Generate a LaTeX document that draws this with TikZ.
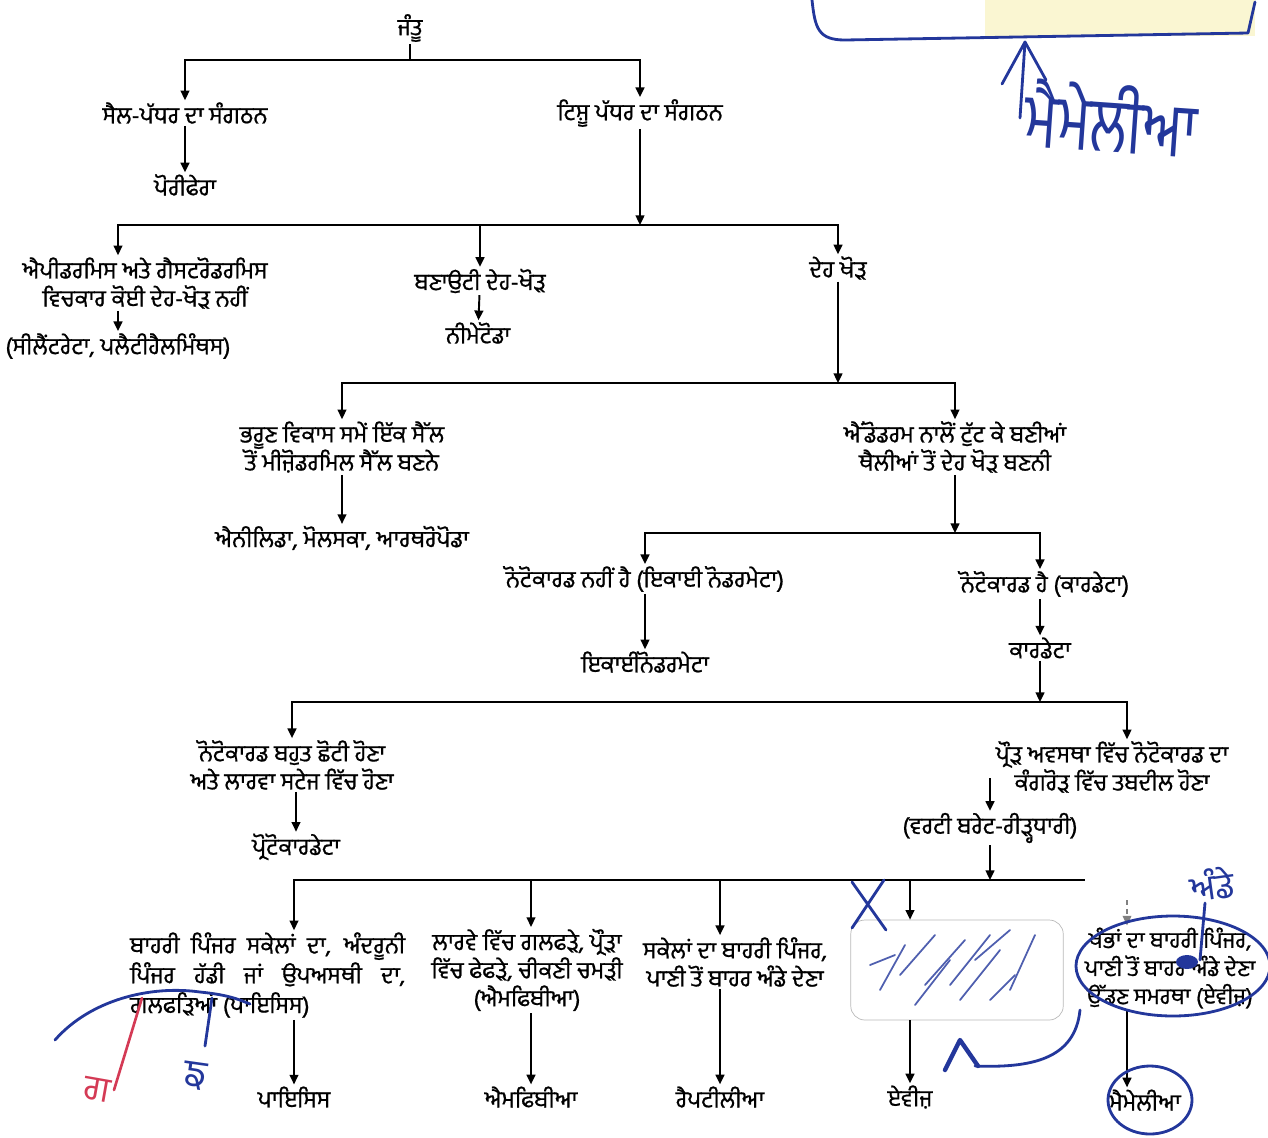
\documentclass[tikz,border=0pt]{standalone}
\usepackage{fontspec}
\newfontfamily\gurmukhi[Script=Gurmukhi, FakeBold=0.8]{Hind Jalandhar}
\newfontfamily\gurhand[Script=Gurmukhi]{Hind Jalandhar}
\usepackage{tikz}
\usetikzlibrary{positioning,arrows.meta,calc}
\definecolor{inkBlue}{HTML}{23379B}
\definecolor{inkRed}{HTML}{D43A55}
\definecolor{hiYellow}{HTML}{FAF6D2}

\begin{document}
\begin{tikzpicture}[
    x=0.02cm, y=-0.02cm,
    every node/.style={font=\gurmukhi\fontsize{13.3}{16}\selectfont, inner sep=1pt},
    lbl/.style={align=center},
    arr/.style={-{Triangle[length=5.5pt,width=5pt]}, line width=1.1pt},
    ink/.style={inkBlue, line width=1.6pt, line cap=round, line join=round},
    hand/.style={font=\gurhand\fontsize{30}{30}\selectfont, inkBlue}
  ]
  \useasboundingbox (0,0) rectangle (1268,1137);
  \fill[hiYellow] (985,0) rectangle (1255,36);

  % upper levels
  \node (jantu) at (410,28) {ਜੰਤੂ};
  \node (cell) at (185,113) {ਸੈਲ-ਪੱਧਰ ਦਾ ਸੰਗਠਨ};
  \node (tiss) at (640,113) {ਟਿਸ਼ੂ ਪੱਧਰ ਦਾ ਸੰਗਠਨ};
  \node (pori) at (185,185) {ਪੋਰੀਫੇਰਾ};
  \node[lbl] (acoel) at (145,283) {ਐਪੀਡਰਮਿਸ ਅਤੇ ਗੈਸਟਰੋਡਰਮਿਸ\\ਵਿਚਕਾਰ ਕੋਈ ਦੇਹ-ਖੋੜ ਨਹੀਂ};
  \node (coelent) at (118,346) {(ਸੀਲੈਂਟਰੇਟਾ, ਪਲੈਟੀਹੈਲਮਿੰਥਸ)};
  \node (pseudo) at (480,281) {ਬਣਾਉਟੀ ਦੇਹ-ਖੋੜ};
  \node (nema) at (478,333) {ਨੀਮੇਟੋਡਾ};
  \node (coel) at (838,268) {ਦੇਹ ਖੋੜ};
  \node[lbl] (schizo) at (342,447) {ਭਰੂਣ ਵਿਕਾਸ ਸਮੇਂ ਇੱਕ ਸੈੱਲ\\ਤੋਂ ਮੀਜ਼ੋਡਰਮਿਲ ਸੈੱਲ ਬਣਨੇ};
  \node (amo) at (342,538) {ਐਨੀਲਿਡਾ, ਮੋਲਸਕਾ, ਆਰਥਰੋਪੋਡਾ};
  \node[lbl] (entero) at (955,447) {ਐਂਡੋਡਰਮ ਨਾਲੋਂ ਟੁੱਟ ਕੇ ਬਣੀਆਂ\\ਥੈਲੀਆਂ ਤੋਂ ਦੇਹ ਖੋੜ ਬਣਨੀ};
  \node (nonot) at (645,579) {ਨੋਟੋਕਾਰਡ ਨਹੀਂ ਹੈ (ਇਕਾਈ ਨੋਡਰਮੇਟਾ)};
  \node (echi) at (645,662) {ਇਕਾਈਨੋਡਰਮੇਟਾ};
  \node (hasnot) at (1045,584) {ਨੋਟੋਕਾਰਡ ਹੈ (ਕਾਰਡੇਟਾ)};
  \node (chor) at (1040,648) {ਕਾਰਡੇਟਾ};
  \node[lbl] (small) at (292,765) {ਨੋਟੋਕਾਰਡ ਬਹੁਤ ਛੋਟੀ ਹੋਣਾ\\ਅਤੇ ਲਾਰਵਾ ਸਟੇਜ ਵਿੱਚ ਹੋਣਾ};
  \node (proto) at (296,847) {ਪ੍ਰੋਟੋਕਾਰਡੇਟਾ};
  \node[lbl] (adult) at (1112,767) {ਪ੍ਰੌੜ ਅਵਸਥਾ ਵਿੱਚ ਨੋਟੋਕਾਰਡ ਦਾ\\ਕੰਗਰੋੜ ਵਿੱਚ ਤਬਦੀਲ ਹੋਣਾ};
  \node (vert) at (990,828) {(ਵਰਟੀ ਬਰੇਟ-ਰੀੜ੍ਹਧਾਰੀ)};

  % vertebrate classes
  \node[align=left, anchor=west, font=\gurmukhi\fontsize{13.3}{17}\selectfont] (piscd) at (128,975)
    {\makebox[5.5cm][s]{ਬਾਹਰੀ ਪਿੰਜਰ ਸਕੇਲਾਂ ਦਾ, ਅੰਦਰੂਨੀ}\\\makebox[5.5cm][s]{ਪਿੰਜਰ ਹੱਡੀ ਜਾਂ ਉਪਅਸਥੀ ਦਾ,}\\ਗਲਫੜਿਆਂ (ਪਾਇਸਿਸ)};
  \node[lbl] (amphd) at (527,970) {ਲਾਰਵੇ ਵਿੱਚ ਗਲਫੜੇ, ਪ੍ਰੌੜਾ\\ਵਿੱਚ ਫੇਫੜੇ, ਚੀਕਣੀ ਚਮੜੀ\\(ਐਮਫਿਬੀਆ)};
  \node[lbl] (reptd) at (735,962) {ਸਕੇਲਾਂ ਦਾ ਬਾਹਰੀ ਪਿੰਜਰ,\\ਪਾਣੀ ਤੋਂ ਬਾਹਰ ਅੰਡੇ ਦੇਣਾ};
  \node[draw=gray!55, rounded corners=8pt, minimum width=4.25cm, minimum height=2cm] (avesd) at (957,970) {};
  \node[lbl, font=\gurmukhi\fontsize{12.8}{16}\selectfont] (mammd) at (1170,968) {ਖੰਭਾਂ ਦਾ ਬਾਹਰੀ ਪਿੰਜਰ,\\ਪਾਣੀ ਤੋਂ ਬਾਹਰ ਅੰਡੇ ਦੇਣਾ\\ਉੱਡਣ ਸਮਰਥਾ (ਏਵੀਜ਼)};
  \node (pis) at (294,1097) {ਪਾਇਸਿਸ};
  \node (amph) at (531,1097) {ਐਮਫਿਬੀਆ};
  \node (rept) at (720,1097) {ਰੈਪਟੀਲੀਆ};
  \node (aves) at (910,1097) {ਏਵੀਜ਼};
  \node (mamm) at (1145,1100) {ਮੈਮੇਲੀਆ};

  % branch points
  \coordinate (j0) at (410,60);
  \coordinate (j1) at (640,225);
  \coordinate (j2) at (838,383);
  \coordinate (j3) at (955,533);
  \coordinate (j4) at (1040,702);
  \coordinate (v0) at (990,778);
  \coordinate (j5) at (990,880);
  \coordinate (j5e) at (1085,880);
  \coordinate (m0) at (1127,900);

  \draw[line width=1.1pt] (jantu) -- (j0);
  \draw[arr] (j0) -| (cell);
  \draw[arr] (j0) -| (tiss);
  \draw[arr] (cell) -- (pori);
  \draw[arr] (tiss) -- (j1);
  \draw[arr] (j1) -| (acoel.north -| coelent);
  \draw[arr] (j1) -| (pseudo);
  \draw[arr] (j1) -| (coel);
  \draw[arr] (acoel.south -| coelent) -- (coelent);
  \draw[arr] (pseudo) -- (nema);
  \draw[arr] (coel) -- (j2);
  \draw[arr] (j2) -| (schizo);
  \draw[arr] (j2) -| (entero);
  \draw[arr] (schizo) -- (amo);
  \draw[arr] (entero) -- (j3);
  \draw[arr] (j3) -| (nonot.north -| echi);
  \draw[arr] (j3) -| (hasnot.north -| chor);
  \draw[arr] (nonot.south -| echi) -- (echi);
  \draw[arr] (hasnot.south -| chor) -- (chor);
  \draw[arr] (chor) -- (j4);
  \draw[arr] (j4) -| (small);
  \draw[arr] (j4) -| (adult.north -| m0);
  \draw[arr] (small.south -| proto) -- (proto);
  \draw[arr] (v0) -- (vert);
  \draw[arr] (vert) -- (j5);
  \draw[line width=1.1pt] (j5) -- (j5e);
  \draw[arr] (j5) -| (piscd.north -| pis);
  \draw[arr] (j5) -| (amphd.north -| amph);
  \draw[arr] (j5) -| (reptd.north -| rept);
  \draw[arr] (j5) -| (avesd.north -| aves);
  \draw[arr, gray, densely dashed, line width=0.7pt] (m0) -- (mammd.north -| m0);
  \draw[arr] (piscd.south -| pis) -- (pis);
  \draw[arr] (amphd.south -| amph) -- (amph);
  \draw[arr] (reptd.south -| rept) -- (rept);
  \draw[arr] (avesd.south -| aves) -- (aves);
  \draw[arr] (mammd.south -| m0) -- (mamm.north -| m0);

  % pen marks
  \draw[ink] (812,0) .. controls (815,28) and (818,40) .. (845,40) -- (1248,33) -- (1255,2);
  \coordinate (up0) at (1020,118);
  \coordinate (up1) at (1025,42);
  \draw[ink] (up0) -- (up1);
  \draw[ink] (1002,84) -- (up1) -- (1046,80);
  \node[hand, font=\gurhand\fontsize{32}{32}\selectfont, rotate=-4, yscale=1.35] (mamhand) at (1112,118) {ਮੈਮੇਲੀਆ};
  \draw[ink] (852,882) -- (886,930) (884,880) -- (852,928);
  \foreach \a/\b/\c/\d in {880/990/905/945, 900/975/935/935, 925/985/965/940, 950/985/990/935,
                           960/1000/1000/950, 1010/990/1035/935, 870/965/895/955, 975/960/1010/930,
                           915/1005/950/960, 990/1000/1015/975}
    \draw[inkBlue!80, line width=1pt, line cap=round] (\a,\b) -- (\c,\d);
  \draw[ink] (1173,966) ellipse [x radius=97, y radius=50];
  \draw[ink] (1080,1010) .. controls (1075,1060) and (1030,1068) .. (975,1066);
  \draw[ink, line width=2.5pt] (945,1070) -- (960,1040) -- (978,1066);
  \draw[ink] (1150,1100) ellipse [x radius=42, y radius=34];
  \draw[ink] (1205,903) -- (1200,960);
  \fill[inkBlue] (1187,962) ellipse [x radius=11, y radius=7];
  \node[hand, font=\gurhand\fontsize{20}{20}\selectfont, rotate=8] (andehand) at (1212,884) {ਅੰਡੇ};
  \draw[ink] (55,1040) .. controls (90,1000) and (150,985) .. (200,992) .. controls (230,995) and (240,1000) .. (250,1004);
  \draw[ink] (212,998) -- (205,1046);
  \draw[inkRed, line width=1.5pt, line cap=round] (142,998) -- (114,1090);
  \node[hand, inkRed, font=\gurhand\fontsize{20}{20}\selectfont, rotate=-10] (gahand) at (97,1090) {ਗ};
  \node[hand, font=\gurhand\fontsize{22}{22}\selectfont, rotate=-8] (nhand) at (195,1076) {ਙ};
\end{tikzpicture}
\end{document}
